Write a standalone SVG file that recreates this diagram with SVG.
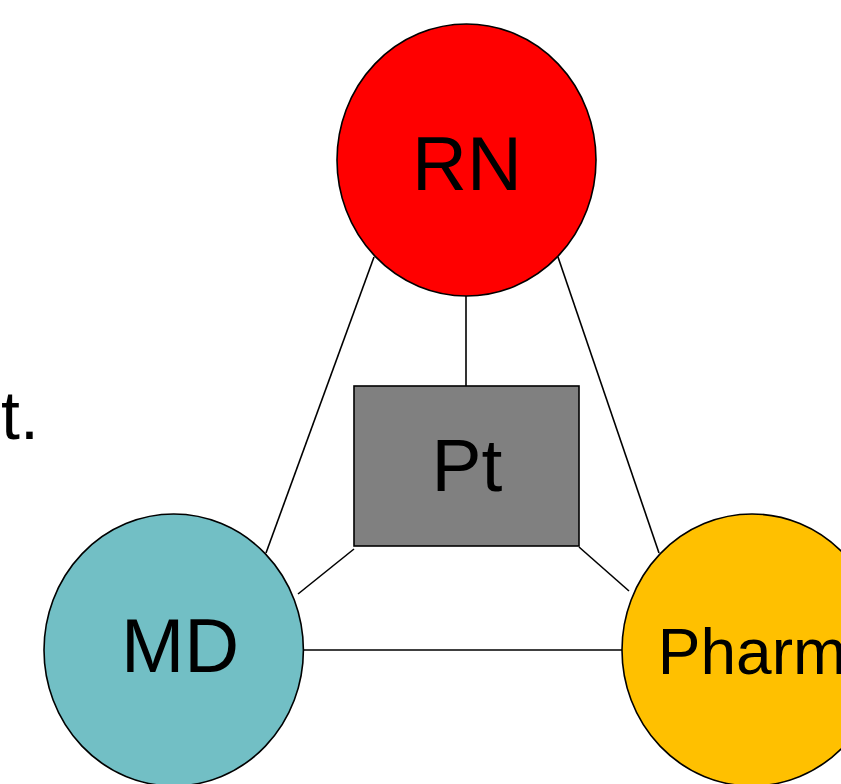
<svg xmlns="http://www.w3.org/2000/svg" width="841" height="784" viewBox="0 0 841 784">
<style>
.node{stroke:#000;stroke-width:1.6}
.lbl{font-family:"Liberation Sans",Arial,sans-serif;fill:#000;text-anchor:middle}
.conn line{stroke:#000;stroke-width:1.6}
</style>
<rect width="841" height="784" fill="#fff"/>
<text x="1" y="439" style="font-family:'Liberation Sans',Arial,sans-serif;font-size:68px;fill:#000">t.</text>
<g id="connectors" class="conn">
<line x1="466" y1="296" x2="466" y2="386"/>
<line x1="374" y1="257" x2="266" y2="553"/>
<line x1="558" y1="257" x2="659" y2="553"/>
<line x1="298" y1="594" x2="354" y2="549"/>
<line x1="579" y1="547" x2="629" y2="591"/>
<line x1="303" y1="650" x2="622" y2="650"/>
</g>
<g id="RN">
<ellipse class="node" cx="466.5" cy="160" rx="129.5" ry="136" fill="#FF0000"/>
<text class="lbl" x="467" y="190" font-size="76">RN</text>
</g>
<g id="Pt">
<rect class="node" x="354" y="386" width="225" height="160" fill="#808080"/>
<text class="lbl" x="467" y="491" font-size="75">Pt</text>
</g>
<g id="MD">
<ellipse class="node" cx="173.7" cy="650" rx="129.7" ry="136" fill="#72BFC5"/>
<text class="lbl" x="180" y="672" font-size="76">MD</text>
</g>
<g id="Pharm">
<ellipse class="node" cx="752" cy="650" rx="130" ry="136" fill="#FFC000"/>
<text class="lbl" x="752" y="674" font-size="64">Pharm</text>
</g>
</svg>
